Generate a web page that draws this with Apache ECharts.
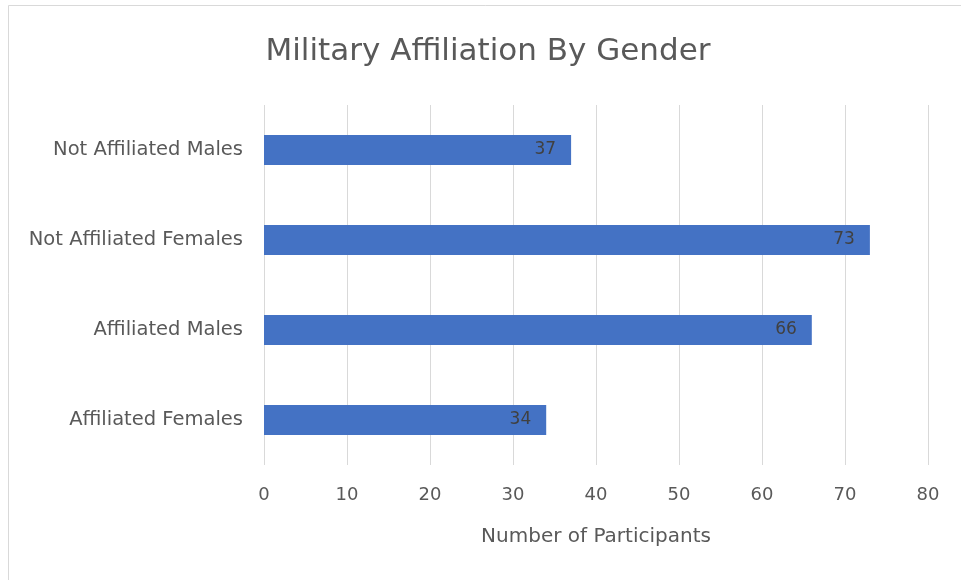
<!DOCTYPE html>
<html>
<head>
<meta charset="utf-8">
<script src="https://cdn.jsdelivr.net/npm/echarts@6/dist/echarts.min.js"></script>
<style>
html,body{margin:0;padding:0;background:#fff;}
#chart{width:961px;height:580px;}
</style>
</head>
<body>
<div id="chart"></div>
<script>
// Data
const categories = ["Affiliated Females", "Affiliated Males", "Not Affiliated Females", "Not Affiliated Males"];
const participants = [34, 66, 73, 37];
const xTicks = { min: 0, max: 80, interval: 10 };
const titleText = "Military Affiliation By Gender";
const xAxisName = "Number of Participants";

const FONT = "DejaVu Sans";
const chart = echarts.init(document.getElementById('chart'), null, { renderer: 'canvas' });
chart.setOption({
  backgroundColor: '#ffffff',
  animation: false,
  graphic: [{
    type: 'rect',
    shape: { x: 8.5, y: 5.5, width: 970, height: 590 },
    style: { fill: 'none', stroke: '#d9d9d9', lineWidth: 1 },
    silent: true
  }],
  title: {
    text: titleText,
    left: 483,
    top: 31,
    textAlign: 'center',
    textStyle: { fontFamily: FONT, fontSize: 31, fontWeight: 'normal', color: '#595959' }
  },
  grid: { left: 264, right: 33, top: 105, bottom: 115, containLabel: false },
  xAxis: {
    type: 'value',
    min: xTicks.min, max: xTicks.max, interval: xTicks.interval,
    name: xAxisName,
    nameLocation: 'middle',
    nameGap: 62,
    nameTextStyle: { fontFamily: FONT, fontSize: 20, color: '#595959' },
    axisLine: { show: false },
    axisTick: { show: false },
    axisLabel: { fontFamily: FONT, fontSize: 18, color: '#595959', margin: 21 },
    splitLine: { show: true, lineStyle: { color: '#d9d9d9', width: 1 } }
  },
  yAxis: {
    type: 'category',
    data: categories,
    axisLine: { show: false },
    axisTick: { show: false },
    axisLabel: { fontFamily: FONT, fontSize: 19.5, color: '#595959', margin: 21 },
    splitLine: { show: false }
  },
  series: [{
    type: 'bar',
    data: participants,
    barWidth: 30,
    itemStyle: { color: '#4472C4' },
    label: {
      show: true,
      position: 'insideRight',
      distance: 15,
      fontFamily: FONT,
      fontSize: 17,
      color: '#404040'
    }
  }]
});
</script>
</body>
</html>
